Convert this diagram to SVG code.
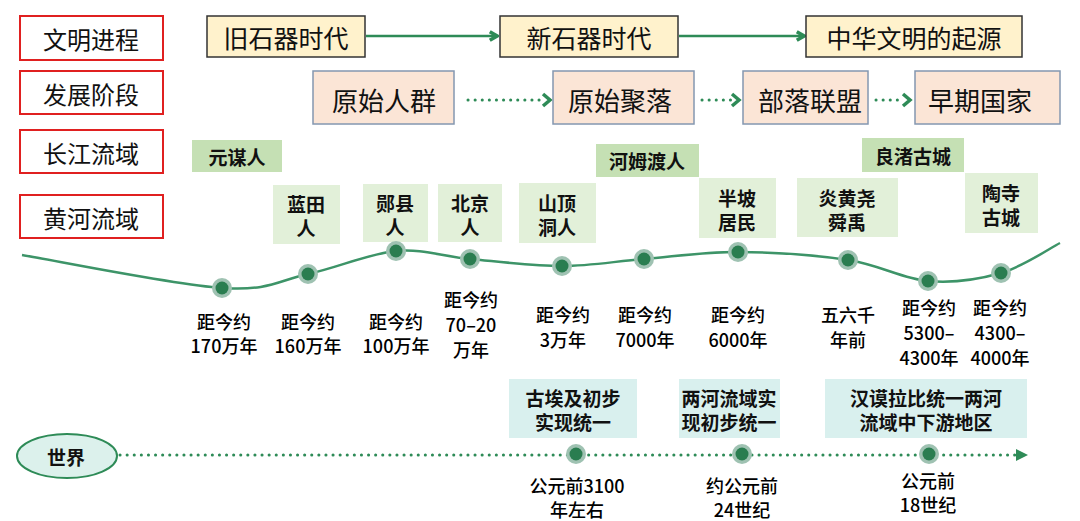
<svg xmlns="http://www.w3.org/2000/svg" width="1080" height="521" viewBox="0 0 1080 521">
<style>
text{font-family:"Noto Sans CJK SC","Noto Sans",sans-serif;text-anchor:middle;dominant-baseline:central;fill:#111}
.lbl{fill:none;stroke:#e02020;stroke-width:2}
.lt{font-size:24px}
.era{fill:#fff2cc;stroke:#333;stroke-width:1.5}
.et{font-size:25px}
.stg{fill:#fbe5d6;stroke:#8497b0;stroke-width:1.5}
.st{font-size:26px}
.yz{fill:#c5e0b4}
.hh{fill:#e2f0d9}
.wd{fill:#d9f0ee}
.nt{font-size:19px;font-weight:bold}
.dt{font-size:18px;font-weight:500;fill:#000}
.con{fill:none;stroke:#2e8b57;stroke-width:2.5}
.dot{fill:none;stroke:#2e8b57;stroke-width:3;stroke-dasharray:0.1 7;stroke-linecap:round}
.halo{fill:#9fc2b2}
.core{fill:#2a7d50}
</style>
<defs>
<marker id="chev2" viewBox="0 0 10 10" refX="8" refY="5" markerWidth="12" markerHeight="12" orient="auto" markerUnits="userSpaceOnUse">
<path d="M2,1.5 L8,5 L2,8.5" fill="none" stroke="#2e8b57" stroke-width="3"/>
</marker>
</defs>

<g id="row-labels">
<g id="lbl-wmjc"><rect x="20" y="16" width="143" height="44" fill="#fff2cc" class="lbl"/><text x="91" y="38" class="lt">文明进程</text></g>
<g id="lbl-fzjd"><rect x="20" y="71" width="143" height="43" fill="#fbe5d6" class="lbl"/><text x="91" y="93" class="lt">发展阶段</text></g>
<g id="lbl-cjly"><rect x="20" y="130" width="143" height="43" fill="#c5e0b4" class="lbl"/><text x="91" y="152" class="lt">长江流域</text></g>
<g id="lbl-hhly"><rect x="20" y="195" width="143" height="43" fill="#e2f0d9" class="lbl"/><text x="91" y="217" class="lt">黄河流域</text></g>
</g>

<g id="connectors">
<line x1="366" y1="36" x2="497" y2="36" class="con" marker-end="url(#chev2)"/>
<line x1="679" y1="36" x2="804" y2="36" class="con" marker-end="url(#chev2)"/>
<line x1="468" y1="100" x2="545" y2="100" class="dot"/>
<path d="M543,94 L550,100 L543,106" fill="none" stroke="#2e8b57" stroke-width="3.5"/>
<line x1="702" y1="100" x2="733" y2="100" class="dot"/>
<path d="M732,94 L739,100 L732,106" fill="none" stroke="#2e8b57" stroke-width="3.5"/>
<line x1="876" y1="100" x2="903" y2="100" class="dot"/>
<path d="M903,94 L910,100 L903,106" fill="none" stroke="#2e8b57" stroke-width="3.5"/>
<path id="timeline" d="M22,255 C55,260.5 174.3,284.8 222,288 C269.7,291.2 279,280.2 308,274 C337,267.8 369,253.5 396,251 C423,248.5 442.3,256.5 470,259 C497.7,261.5 533,266 562,266 C591,266 614.7,261.3 644,259 C673.3,256.7 704,251.8 738,252 C772,252.2 816.3,255.2 848,260 C879.7,264.8 902.5,278.8 928,281 C953.5,283.2 979,279.3 1001,273 C1023,266.7 1050.2,248 1060,243" fill="none" stroke="#3d9468" stroke-width="2.5"/>
<line x1="120" y1="455" x2="1018" y2="455" class="dot"/>
<path d="M1016,449 L1028,455 L1016,461 Z" fill="#2e8b57"/>
</g>

<g id="eras">
<g id="era-old"><rect x="207" y="16" width="158" height="41" class="era"/><text x="286" y="37" class="et">旧石器时代</text></g>
<g id="era-new"><rect x="500" y="16" width="178" height="41" class="era"/><text x="589" y="37" class="et">新石器时代</text></g>
<g id="era-origin"><rect x="806" y="16" width="216" height="41" class="era"/><text x="914" y="37" class="et">中华文明的起源</text></g>
</g>

<g id="stages">
<g id="stg-1"><rect x="313" y="71" width="141" height="53" class="stg"/><text x="384" y="99" class="st">原始人群</text></g>
<g id="stg-2"><rect x="553" y="71" width="141" height="53" class="stg"/><text x="620" y="99" class="st">原始聚落</text></g>
<g id="stg-3"><rect x="743" y="71" width="125" height="53" class="stg"/><text x="810" y="99" class="st">部落联盟</text></g>
<g id="stg-4"><rect x="915" y="71" width="145" height="53" class="stg"/><text x="980" y="99" class="st">早期国家</text></g>
</g>

<g id="sites">
<g id="n-yuanmou"><rect x="192" y="140" width="90" height="32" class="yz"/><text x="237" y="156" class="nt">元谋人</text></g>
<g id="n-lantian"><rect x="273" y="185" width="67" height="59" class="hh"/><text x="306" y="203" class="nt">蓝田</text><text x="306" y="227" class="nt">人</text></g>
<g id="n-yunxian"><rect x="363" y="184" width="65" height="58" class="hh"/><text x="395" y="202" class="nt">郧县</text><text x="395" y="226" class="nt">人</text></g>
<g id="n-beijing"><rect x="438" y="184" width="64" height="58" class="hh"/><text x="470" y="202" class="nt">北京</text><text x="470" y="226" class="nt">人</text></g>
<g id="n-shanding"><rect x="519" y="183" width="77" height="60" class="hh"/><text x="557" y="202" class="nt">山顶</text><text x="557" y="226" class="nt">洞人</text></g>
<g id="n-hemudu"><rect x="596" y="144" width="103" height="33" class="yz"/><text x="647" y="160" class="nt">河姆渡人</text></g>
<g id="n-banpo"><rect x="699" y="178" width="77" height="60" class="hh"/><text x="737" y="197" class="nt">半坡</text><text x="737" y="221" class="nt">居民</text></g>
<g id="n-yanhuang"><rect x="797" y="178" width="101" height="59" class="hh"/><text x="847" y="197" class="nt">炎黄尧</text><text x="847" y="221" class="nt">舜禹</text></g>
<g id="n-liangzhu"><rect x="862" y="138" width="102" height="34" class="yz"/><text x="913" y="155" class="nt">良渚古城</text></g>
<g id="n-taosi"><rect x="965" y="173" width="73" height="60" class="hh"/><text x="1001" y="192" class="nt">陶寺</text><text x="1001" y="216" class="nt">古城</text></g>
</g>

<g id="points">
<circle cx="222" cy="288" r="10" class="halo"/><circle cx="222" cy="288" r="6.5" class="core"/>
<circle cx="308" cy="274" r="10" class="halo"/><circle cx="308" cy="274" r="6.5" class="core"/>
<circle cx="396" cy="251" r="10" class="halo"/><circle cx="396" cy="251" r="6.5" class="core"/>
<circle cx="470" cy="259" r="10" class="halo"/><circle cx="470" cy="259" r="6.5" class="core"/>
<circle cx="562" cy="266" r="10" class="halo"/><circle cx="562" cy="266" r="6.5" class="core"/>
<circle cx="644" cy="259" r="10" class="halo"/><circle cx="644" cy="259" r="6.5" class="core"/>
<circle cx="738" cy="252" r="10" class="halo"/><circle cx="738" cy="252" r="6.5" class="core"/>
<circle cx="848" cy="260" r="10" class="halo"/><circle cx="848" cy="260" r="6.5" class="core"/>
<circle cx="928" cy="281" r="10" class="halo"/><circle cx="928" cy="281" r="6.5" class="core"/>
<circle cx="1001" cy="273" r="10" class="halo"/><circle cx="1001" cy="273" r="6.5" class="core"/>
<circle cx="576" cy="454" r="10" class="halo"/><circle cx="576" cy="454" r="6.5" class="core"/>
<circle cx="742" cy="454" r="10" class="halo"/><circle cx="742" cy="454" r="6.5" class="core"/>
<circle cx="929" cy="454" r="10" class="halo"/><circle cx="929" cy="454" r="6.5" class="core"/>
</g>

<g id="dates">
<text x="224" y="321" class="dt">距今约</text><text x="224" y="345" class="dt">170万年</text>
<text x="308" y="321" class="dt">距今约</text><text x="308" y="345" class="dt">160万年</text>
<text x="396" y="321" class="dt">距今约</text><text x="396" y="345" class="dt">100万年</text>
<text x="471" y="299" class="dt">距今约</text><text x="471" y="324" class="dt">70–20</text><text x="471" y="349" class="dt">万年</text>
<text x="563" y="314" class="dt">距今约</text><text x="563" y="339" class="dt">3万年</text>
<text x="645" y="314" class="dt">距今约</text><text x="645" y="339" class="dt">7000年</text>
<text x="738" y="314" class="dt">距今约</text><text x="738" y="339" class="dt">6000年</text>
<text x="848" y="314" class="dt">五六千</text><text x="848" y="339" class="dt">年前</text>
<text x="929" y="307" class="dt">距今约</text><text x="929" y="332" class="dt">5300–</text><text x="929" y="357" class="dt">4300年</text>
<text x="1000" y="307" class="dt">距今约</text><text x="1000" y="332" class="dt">4300–</text><text x="1000" y="357" class="dt">4000年</text>
</g>

<g id="world">
<g id="n-world"><ellipse cx="67" cy="456" rx="50" ry="22" fill="#dcf1ec" stroke="#2e8b57" stroke-width="2"/><text x="66" y="456" style="font-size:19px;font-weight:bold">世界</text></g>
<g id="w-egypt"><rect x="509" y="379" width="128" height="59" class="wd"/><text x="573" y="397" class="nt">古埃及初步</text><text x="573" y="421" class="nt">实现统一</text></g>
<g id="w-meso"><rect x="679" y="379" width="101" height="59" class="wd"/><text x="729" y="397" class="nt">两河流域实</text><text x="729" y="421" class="nt">现初步统一</text></g>
<g id="w-hammurabi"><rect x="825" y="379" width="202" height="59" class="wd"/><text x="926" y="397" class="nt">汉谟拉比统一两河</text><text x="926" y="421" class="nt">流域中下游地区</text></g>
<text x="577" y="485" class="dt">公元前3100</text><text x="577" y="509" class="dt">年左右</text>
<text x="742" y="485" class="dt">约公元前</text><text x="742" y="509" class="dt">24世纪</text>
<text x="928" y="480" class="dt">公元前</text><text x="928" y="504" class="dt">18世纪</text>
</g>
</svg>
